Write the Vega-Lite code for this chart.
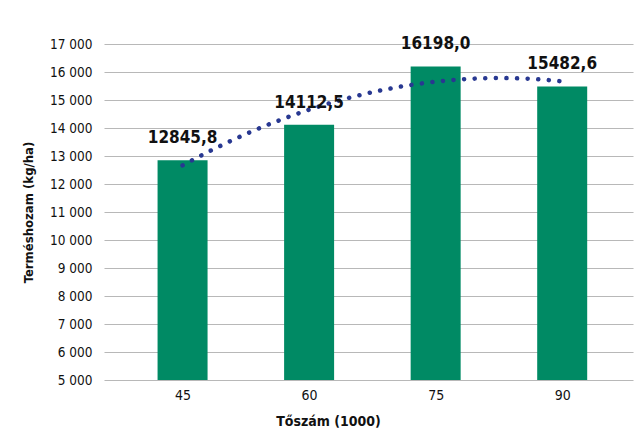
{
  "$schema": "https://vega.github.io/schema/vega-lite/v6.json",
  "width": 529,
  "height": 336,
  "autosize": {"type": "none"},
  "padding": {"left": 104, "top": 44, "right": 5, "bottom": 54},
  "background": "white",
  "config": {
    "locale": {"number": {"decimal": ",", "thousands": " ", "grouping": [3], "currency": ["", ""]}},
    "view": {"stroke": null},
    "font": "DejaVu Sans Condensed, Roboto, sans-serif",
    "axis": {
      "labelFont": "DejaVu Sans Condensed, Roboto, sans-serif",
      "titleFont": "DejaVu Sans Condensed, Roboto, sans-serif",
      "labelColor": "#111111",
      "titleColor": "#111111",
      "labelOverlap": false
    }
  },
  "data": {
    "values": [
      {"x": 45, "yield": 12845.8},
      {"x": 60, "yield": 14112.5},
      {"x": 75, "yield": 16198.0},
      {"x": 90, "yield": 15482.6}
    ]
  },
  "encoding": {
    "x": {
      "field": "x", "type": "quantitative",
      "scale": {"domain": [36.28, 97.8], "nice": false, "zero": false},
      "axis": {
        "values": [45, 60, 75, 90], "grid": false, "domain": false, "ticks": false,
        "labelFontSize": 14, "labelPadding": 8,
        "title": "Tőszám (1000)", "titleFontSize": 14, "titleFontWeight": "bold",
        "titlePadding": 12, "titleX": 224
      }
    },
    "y": {
      "field": "yield", "type": "quantitative",
      "scale": {"domain": [5000, 17000], "nice": false, "zero": false},
      "axis": {
        "values": [5000, 6000, 7000, 8000, 9000, 10000, 11000, 12000, 13000, 14000, 15000, 16000, 17000],
        "tickCount": 13,
        "format": ",d", "domain": false, "ticks": false,
        "gridColor": "#b8b8b8", "gridWidth": 1.2,
        "labelFontSize": 13.5, "labelFontWeight": 500, "labelPadding": 12,
        "title": "Terméshozam (kg/ha)", "titleFontSize": 13, "titleFontWeight": "bold",
        "titlePadding": 14
      }
    }
  },
  "layer": [
    {
      "mark": {"type": "bar", "color": "#008a64", "size": 50},
      "encoding": {
        "y2": {"datum": 5000}
      }
    },
    {
      "transform": [{"regression": "yield", "on": "x", "method": "poly", "order": 2}],
      "mark": {"type": "line", "color": "#283891", "strokeWidth": 4.5, "strokeDash": [0.1, 10.5], "strokeCap": "round"},
      "encoding": {}
    },
    {
      "mark": {"type": "text", "fontSize": 17, "fontWeight": "bold", "dy": -17, "baseline": "alphabetic", "color": "#111111"},
      "encoding": {
        "text": {"field": "yield", "type": "quantitative", "format": ".1f"}
      }
    }
  ]
}
